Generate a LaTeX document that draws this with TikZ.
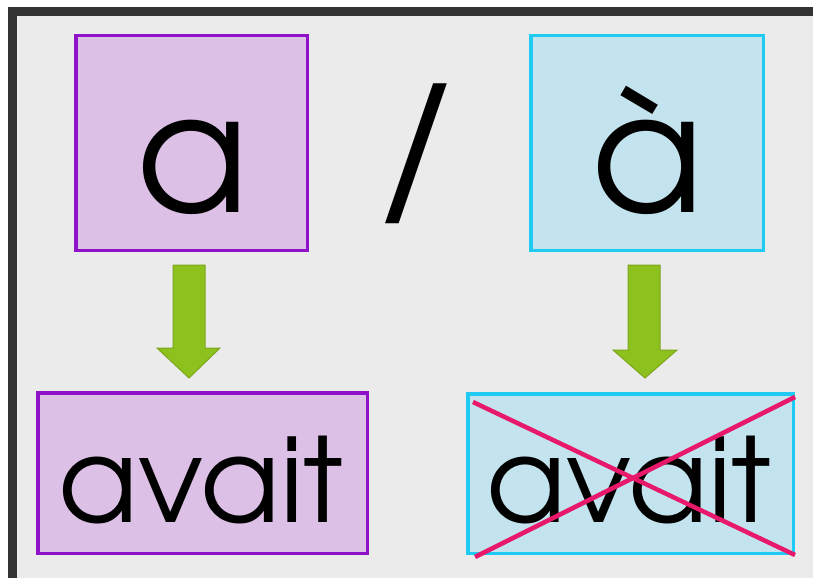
\documentclass[tikz,border=0pt]{standalone}
\usepackage{fontspec}
\setmainfont{TeX Gyre Adventor}
\begin{document}
\begin{tikzpicture}[x=1pt,y=-1pt,
  purplebox/.style={draw=boxpurple,fill=fillpurple,line width=3.5pt,inner sep=0pt},
  cyanbox/.style={draw=boxcyan,fill=fillcyan,line width=3.5pt,inner sep=0pt},
  bigletter/.style={anchor=base,inner sep=0pt,font=\fontsize{165}{165}\selectfont},
  slashstyle/.style={anchor=base,inner sep=0pt,font=\fontsize{175}{175}\selectfont},
  word/.style={anchor=base,inner sep=0pt,font=\fontsize{117}{117}\selectfont},
  greenarrow/.style={fill=arrowgreen,draw=arrowedge,line width=1pt,line join=miter},
  crossline/.style={draw=crosspink,line width=4.5pt}]
\definecolor{boxpurple}{HTML}{9012C8}
\definecolor{fillpurple}{HTML}{DCC0E6}
\definecolor{boxcyan}{HTML}{1FCBF2}
\definecolor{fillcyan}{HTML}{C3E4EE}
\definecolor{arrowgreen}{HTML}{8DC21E}
\definecolor{arrowedge}{HTML}{7DA51B}
\definecolor{crosspink}{HTML}{E8196A}
\definecolor{framedark}{HTML}{333333}
\definecolor{bggray}{HTML}{EBEBEB}
\useasboundingbox (0,0) rectangle (813,578);
\fill[white] (0,0) rectangle (813,578);
\fill[framedark] (8,7) rectangle (813,578);
\fill[bggray] (17,16) rectangle (813,578);
% boxes
\node[purplebox,minimum width=231.5pt,minimum height=214.5pt] (boxa) at (191.5,143) {};
\node[cyanbox,minimum width=232.5pt,minimum height=214.5pt] (boxagrave) at (647,143) {};
\node[purplebox,minimum width=329.5pt,minimum height=160.5pt] (avaitok) at (202.5,473) {};
\node[cyanbox,minimum width=325.5pt,minimum height=159.5pt] (avaitno) at (630.5,473.5) {};
% texts
\node[bigletter] (ta) at (193,212) {a};
\node[slashstyle] (tslash) at (416,197) {/};
\node[bigletter] (tagrave) at (648,212) {à};
\node[word] (tavaitok) at (201,522) {avait};
\node[word] (tavaitno) at (629,522) {avait};
% arrows
\draw[greenarrow] (173,265) -- (205,265) -- (205,348) -- (220,348) -- (189,378)
  -- (157,348) -- (173,348) -- cycle;
\draw[greenarrow] (628,265) -- (660,265) -- (660,350) -- (677,350) -- (645,378)
  -- (613,350) -- (628,350) -- cycle;
% cross
\coordinate (c1) at (473,402);
\coordinate (c2) at (795,555);
\coordinate (c3) at (475,557);
\coordinate (c4) at (795,397);
\draw[crossline] (c1) -- (c2);
\draw[crossline] (c3) -- (c4);
\end{tikzpicture}
\end{document}
